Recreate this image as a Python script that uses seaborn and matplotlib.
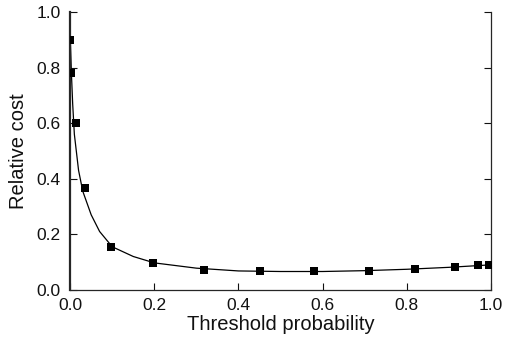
import numpy as np
import pandas as pd
import matplotlib
matplotlib.use('Agg')
import matplotlib.pyplot as plt
import seaborn as sns

# measured points (squares)
threshold = [0.0005, 0.001, 0.014, 0.036, 0.097, 0.197, 0.317, 0.45, 0.58, 0.71, 0.82, 0.915, 0.97, 0.995]
cost = [0.90, 0.78, 0.60, 0.365, 0.155, 0.095, 0.072, 0.068, 0.067, 0.068, 0.075, 0.083, 0.088, 0.091]

# fitted curve
curve_x = [0.0005, 0.003, 0.006, 0.01, 0.02, 0.03, 0.05, 0.07, 0.1, 0.15, 0.2, 0.3, 0.4, 0.5, 0.6, 0.7, 0.8, 0.9, 1.0]
curve_y = [0.90, 0.78, 0.67, 0.56, 0.43, 0.355, 0.27, 0.21, 0.155, 0.12, 0.097, 0.078, 0.068, 0.066, 0.066, 0.069, 0.074, 0.081, 0.09]

tick_vals = [0.0, 0.2, 0.4, 0.6, 0.8, 1.0]
tick_labels = ['0.0', '0.2', '0.4', '0.6', '0.8', '1.0']

pts = pd.DataFrame({'Threshold probability': threshold, 'Relative cost': cost})
fit = pd.DataFrame({'Threshold probability': curve_x, 'Relative cost': curve_y})

sns.set_style('ticks')
plt.rcParams['font.family'] = ['Liberation Sans', 'DejaVu Sans']

fig = plt.figure(figsize=(5.12, 3.43), dpi=100)
ax = fig.add_axes([0.137, 0.155, 0.822, 0.81])

sns.lineplot(data=fit, x='Threshold probability', y='Relative cost', color='black',
             linewidth=0.9, ax=ax)
sns.scatterplot(data=pts, x='Threshold probability', y='Relative cost', marker='s',
                color='black', s=30, edgecolor='black', linewidth=0, ax=ax, zorder=3)

ax.set_xlim(0, 1)
ax.set_ylim(0, 1)
ax.set_xticks(tick_vals)
ax.set_yticks(tick_vals)
ax.set_xticklabels(tick_labels)
ax.set_yticklabels(tick_labels)
ax.tick_params(direction='in', length=5, width=0.8, labelsize=12.5, right=True,
               colors='#111111')
ax.tick_params(axis='x', pad=6)
ax.tick_params(axis='y', pad=7)
ax.spines['top'].set_visible(False)
ax.spines['left'].set_linewidth(1.6)
for s in ['bottom', 'right']:
    ax.spines[s].set_linewidth(0.9)
ax.set_xlabel('Threshold probability', fontsize=14.5, labelpad=1, color='#111111')
ax.set_ylabel('Relative cost', fontsize=14.5, labelpad=6, color='#111111')

fig.savefig('out.png', dpi=100)
